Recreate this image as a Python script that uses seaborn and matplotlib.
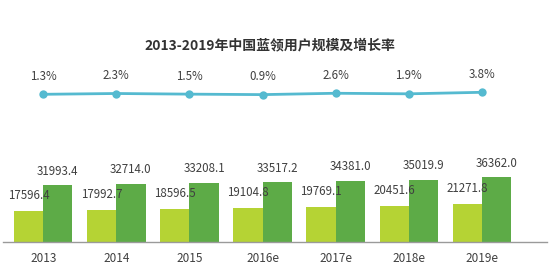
import matplotlib
matplotlib.use("Agg")
import matplotlib.pyplot as plt
import seaborn as sns
import pandas as pd

years = ["2013", "2014", "2015", "2016e", "2017e", "2018e", "2019e"]
series_a = [17596.4, 17992.7, 18596.5, 19104.8, 19769.1, 20451.6, 21271.8]
series_b = [31993.4, 32714.0, 33208.1, 33517.2, 34381.0, 35019.9, 36362.0]
growth = [1.3, 2.3, 1.5, 0.9, 2.6, 1.9, 3.8]
title = "2013-2019年中国蓝领用户规模及增长率"

sns.set_theme(style="white")
plt.rcParams['font.family'] = ['Noto Sans CJK SC', 'DejaVu Sans']

W, H = 550, 265
fig = plt.figure(figsize=(W / 100, H / 100), dpi=100)

light = "#b5d334"
dark = "#5dab47"
cyan = "#55bad0"
txt = "#404040"

# bar axes
x0_px, x1_px = 3, 547
xmin, xmax = -0.55, 6.89
base_px = 242
ymax = 40000
px_per_unit = 64.8 / 36362
ax_h = ymax * px_per_unit
ax = fig.add_axes([x0_px / W, (H - base_px) / H, (x1_px - x0_px) / W, ax_h / H])

df = pd.DataFrame({
    "year": years * 2,
    "value": series_a + series_b,
    "series": ["a"] * len(years) + ["b"] * len(years),
})
sns.barplot(data=df, x="year", y="value", hue="series", palette=[light, dark],
            width=0.8, ax=ax, legend=False, saturation=1, linewidth=0, edgecolor="none")
ax.set_xlim(xmin, xmax)
ax.set_ylim(0, ymax)
for s in ["top", "right", "left"]:
    ax.spines[s].set_visible(False)
ax.spines["bottom"].set_color("#9a9a9a")
ax.spines["bottom"].set_linewidth(1.0)
ax.set_yticks([])
ax.set_xlabel("")
ax.set_ylabel("")
ax.tick_params(axis="x", length=0, pad=7, labelsize=8.5, labelcolor=txt)

for i, (a, b) in enumerate(zip(series_a, series_b)):
    ax.annotate(f"{a:.1f}", (i - 0.2, a), xytext=(0, 11), textcoords="offset points",
                ha="center", va="center", fontsize=8.3, color=txt, annotation_clip=False)
    ax.annotate(f"{b:.1f}", (i + 0.2, b), xytext=(0, 10), textcoords="offset points",
                ha="center", va="center", fontsize=8.3, color=txt, annotation_clip=False)

# line axes
lpx = 0.8  # px per percent
pt_y = 94.3  # pixel from top of 1.3
lo, hi = -10, 15
l_h = (hi - lo) * lpx
l_bottom = (H - pt_y) - (1.3 - lo) * lpx
ax2 = fig.add_axes([x0_px / W, l_bottom / H, (x1_px - x0_px) / W, l_h / H])
ldf = pd.DataFrame({"x": list(range(len(years))), "g": growth})
sns.lineplot(data=ldf, x="x", y="g", ax=ax2, color=cyan, linewidth=2,
             marker="o", markersize=6, markeredgewidth=0)
ax2.set_xlim(xmin, xmax)
ax2.set_ylim(lo, hi)
ax2.axis("off")
for i, g in enumerate(growth):
    ax2.annotate(f"{g}%", (i, g), xytext=(0, 13), textcoords="offset points",
                 ha="center", va="center", fontsize=8.3, color=txt, annotation_clip=False)

fig.text(270 / W, 1 - 45 / H, title, ha="center", va="center", fontsize=10,
         fontweight="bold", color="#333333")

fig.savefig("out.png", dpi=100)
